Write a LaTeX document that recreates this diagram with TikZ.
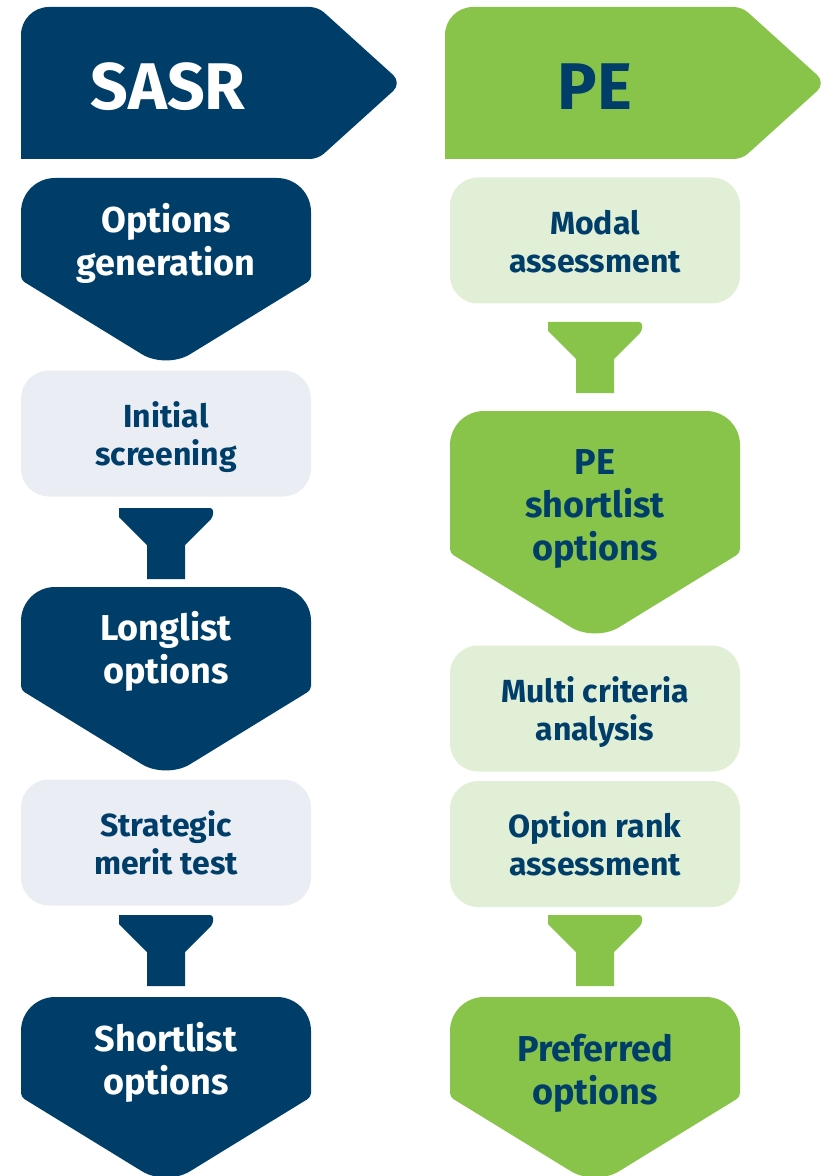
\documentclass[tikz,border=0pt]{standalone}
\usepackage{fontspec}
\setmainfont{Fira Sans}
\usepackage{tikz}

\definecolor{sasrblue}{RGB}{0,62,106}
\definecolor{pegreen}{RGB}{136,196,74}
\definecolor{sasrgrey}{RGB}{234,237,243}
\definecolor{pelight}{RGB}{226,239,215}

% chevron shaped stage box: centre x, top, end of the sides, colour
\newcommand{\chevronbox}[4]{%
  \fill[#4] (#1-145,#2+40) [rounded corners=17pt] -- (#1-145,#2) -- (#1+145,#2)
    [rounded corners=2pt] -- (#1+145,#3) [rounded corners=14pt] -- (#1,#3+89)
    [rounded corners=2pt] -- (#1-145,#3) -- cycle;}

\tikzset{
  title/.style={font=\fontsize{33}{40}\selectfont\bfseries},
  bigtext/.style={font=\fontsize{18}{21.5}\selectfont\bfseries, align=center},
  smalltext/.style={font=\fontsize{16}{19}\selectfont\bfseries, align=center, text=sasrblue},
  lightbox/.style={smalltext, rounded corners=14pt, minimum width=145pt, minimum height=63pt,
    text height=31.7pt, text depth=0pt},
  funnel/.pic={
    \fill[pic actions, rounded corners=1.5pt] (-47,0) -- (47,0) -- (47,9)
      [sharp corners] -- (19,37) -- (19,71) -- (-19,71) -- (-19,37) -- (-47,9) -- cycle;
  }
}

\begin{document}
\begin{tikzpicture}[x=0.5pt,y=-0.5pt]
    \useasboundingbox (0,0) rectangle (829,1176);
    \clip (0,0) rectangle (829,1176);

    % headers
    \fill[sasrblue] (21,83) [rounded corners=14pt] -- (21,7) [rounded corners=4pt] -- (318,7)
        [rounded corners=6pt] -- (402,83) [rounded corners=4pt] -- (318,159) [sharp corners] -- (21,159) -- cycle;
    \fill[pegreen] (445,83) [rounded corners=14pt] -- (445,7) [rounded corners=4pt] -- (742,7)
        [rounded corners=6pt] -- (826,83) [rounded corners=4pt] -- (742,159) [sharp corners] -- (445,159) -- cycle;
    \node[title, text=white] (sasr) at (168,87) {SASR};
    \node[title, text=sasrblue] (pe) at (595,87) {PE};

    % SASR column
    \chevronbox{166}{178}{280}{sasrblue}
    \node[bigtext, text=white] (optgen) at (166,243) {Options\\generation};
    \node[lightbox, fill=sasrgrey] (screen) at (166,433.5) {Initial\\screening};
    \pic[fill=sasrblue] at (166,508) {funnel};
    \chevronbox{166}{587}{690}{sasrblue}
    \node[bigtext, text=white] (longlist) at (166,651) {Longlist\\options};
    \node[lightbox, fill=sasrgrey] (merit) at (166,842.5) {Strategic\\merit test};
    \pic[fill=sasrblue] at (166,915) {funnel};
    \chevronbox{166}{997}{1097}{sasrblue}
    \node[bigtext, text=white] (shortlist) at (166,1062) {Shortlist\\options};

    % PE column
    \node[lightbox, fill=pelight] (modal) at (595,240.5) {Modal\\assessment};
    \pic[fill=pegreen] at (595,322) {funnel};
    \chevronbox{595}{411}{553}{pegreen}
    \node[bigtext, text=sasrblue] (peshort) at (595,509) {PE\\shortlist\\options};
    \node[lightbox, fill=pelight] (mca) at (595,708.5) {Multi criteria\\analysis};
    \node[lightbox, fill=pelight] (rank) at (595,844) {Option rank\\assessment};
    \pic[fill=pegreen] at (595,915) {funnel};
    \chevronbox{595}{997}{1097}{pegreen}
    \node[bigtext, text=sasrblue] (preferred) at (595,1073) {Preferred\\options};
\end{tikzpicture}
\end{document}
